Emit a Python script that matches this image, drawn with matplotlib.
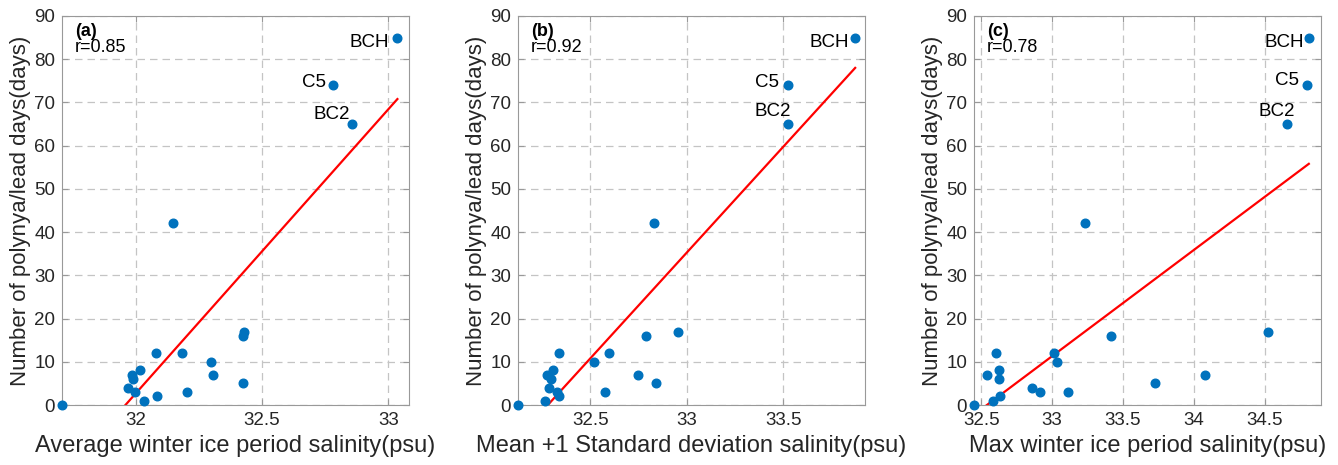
import numpy as np
import matplotlib
matplotlib.use("Agg")
import matplotlib.pyplot as plt

plt.rcParams["font.family"] = ["Liberation Sans", "DejaVu Sans"]

# days of polynya/lead at each station (same for all three panels, order per panel)
days_a = [0, 4, 7, 6, 3, 8, 1, 12, 2, 42, 12, 3, 10, 7, 5, 16, 17, 74, 65, 85]
sal_avg = [31.707, 31.970, 31.985, 31.989, 31.995, 32.018, 32.030, 32.080, 32.082, 32.145,
           32.182, 32.202, 32.298, 32.306, 32.423, 32.426, 32.427, 32.781, 32.855, 33.036]

days_b = [0, 1, 7, 4, 6, 8, 12, 3, 2, 10, 3, 12, 7, 16, 5, 42, 17, 74, 65, 85]
sal_std = [32.124, 32.266, 32.276, 32.287, 32.297, 32.304, 32.335, 32.328, 32.335, 32.517,
           32.575, 32.597, 32.746, 32.786, 32.840, 32.831, 32.956, 33.527, 33.525, 33.874]

days_c = [0, 7, 1, 12, 8, 6, 2, 4, 3, 12, 10, 3, 42, 16, 5, 7, 17, 65, 74, 85]
sal_max = [32.450, 32.539, 32.581, 32.602, 32.621, 32.624, 32.633, 32.861, 32.913, 33.016,
           33.033, 33.111, 33.233, 33.414, 33.727, 34.078, 34.522, 34.656, 34.798, 34.812]

panels = [
    dict(x=sal_avg, y=days_a, tag="(a)", r="r=0.85", xlim=(31.707, 33.082),
         xticks=[32, 32.5, 33], xlabel="Average winter ice period salinity(psu)",
         names={17: ("C5", -7, 3), 18: ("BC2", -2, 10), 19: ("BCH", -8, -5)}),
    dict(x=sal_std, y=days_b, tag="(b)", r="r=0.92", xlim=(32.124, 33.925),
         xticks=[32.5, 33, 33.5], xlabel="Mean +1 Standard deviation salinity(psu)",
         names={17: ("C5", -9, 3), 18: ("BC2", 3, 13), 19: ("BCH", -6, -5)}),
    dict(x=sal_max, y=days_c, tag="(c)", r="r=0.78", xlim=(32.448, 34.898),
         xticks=[32.5, 33, 33.5, 34, 34.5], xlabel="Max winter ice period salinity(psu)",
         names={17: ("BC2", 8, 13), 18: ("C5", -8, 5), 19: ("BCH", -5, -5)}),
]

W, H = 1338, 465
fig = plt.figure(figsize=(W / 100, H / 100), dpi=100)
lefts = [62, 518, 974]

for left, p in zip(lefts, panels):
    ax = fig.add_axes([left / W, (H - 405) / H, 347 / W, 389 / H])
    x = np.array(p["x"])
    y = np.array(p["y"])

    ax.grid(True, linestyle=(0, (6, 4)), color="#c4c4c4", linewidth=0.9)
    ax.set_axisbelow(True)

    ax.plot(x, y, "o", color="#0072BD", markersize=6.2, zorder=3, clip_on=False)

    k, b = np.polyfit(x, y, 1)
    xs = np.array([x.min(), x.max()])
    ax.plot(xs, k * xs + b, color="red", linewidth=1.6, zorder=2)

    for i, (name, dx, dy) in p["names"].items():
        ax.annotate(name, (x[i], y[i]), xytext=(dx * 0.72, dy * 0.72),
                    textcoords="offset points", ha="right", va="center",
                    fontsize=13.5, color="black")

    ax.text(0.0375, 0.9486, p["tag"], transform=ax.transAxes, fontsize=13,
            fontweight="bold", va="baseline", ha="left")
    ax.text(0.0375, 0.9075, p["r"], transform=ax.transAxes, fontsize=13,
            va="baseline", ha="left")

    ax.set_xlim(*p["xlim"])
    ax.set_ylim(0, 90)
    ax.set_xticks(p["xticks"])
    ax.set_xticklabels([f"{t:g}" for t in p["xticks"]])
    ax.set_yticks(range(0, 91, 10))
    ax.tick_params(direction="in", length=4, labelsize=13.5, colors="#262626",
                   top=True, right=True, pad=5)
    ax.tick_params(color="#999999")
    for s in ax.spines.values():
        s.set_color("#999999")
        s.set_linewidth(0.8)

    ax.set_xlabel(p["xlabel"], fontsize=17, color="#262626", labelpad=4)
    ax.set_ylabel("Number of polynya/lead days(days)", fontsize=16,
                  color="#262626", labelpad=2)

fig.savefig("out.png", dpi=100)
